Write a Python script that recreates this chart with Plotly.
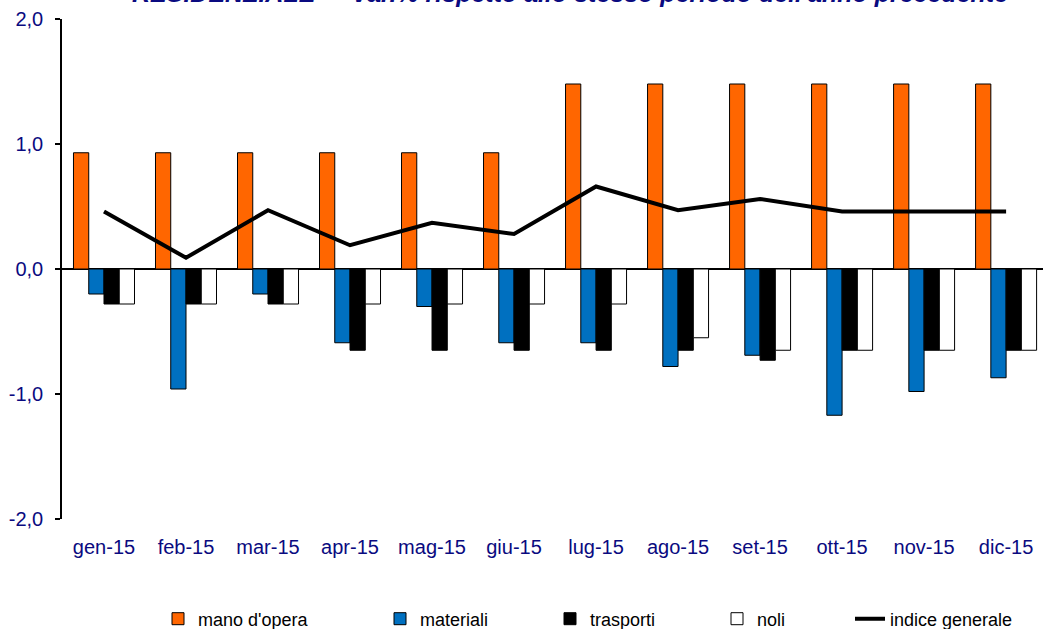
import plotly.graph_objects as go

months = ["gen-15", "feb-15", "mar-15", "apr-15", "mag-15", "giu-15",
          "lug-15", "ago-15", "set-15", "ott-15", "nov-15", "dic-15"]
mano_opera = [0.93, 0.93, 0.93, 0.93, 0.93, 0.93, 1.48, 1.48, 1.48, 1.48, 1.48, 1.48]
materiali = [-0.20, -0.96, -0.20, -0.59, -0.30, -0.59, -0.59, -0.78, -0.69, -1.17, -0.98, -0.87]
trasporti = [-0.28, -0.28, -0.28, -0.65, -0.65, -0.65, -0.65, -0.65, -0.73, -0.65, -0.65, -0.65]
noli = [-0.28, -0.28, -0.28, -0.28, -0.28, -0.28, -0.28, -0.55, -0.65, -0.65, -0.65, -0.65]
indice_generale = [0.46, 0.09, 0.47, 0.19, 0.37, 0.28, 0.66, 0.47, 0.56, 0.46, 0.46, 0.46]

y_tickvals = [-2, -1, 0, 1, 2]
y_ticktext = ["-2,0", "-1,0", "0,0", "1,0", "2,0"]

title_text = "RESIDENZIALE  -  Var.% rispetto allo stesso periodo dell'anno precedente"

navy = "#0A0A80"
font_family = "Liberation Sans, Arial, sans-serif"

fig = go.Figure()
line_style = dict(color="black", width=1)
fig.add_trace(go.Bar(x=months, y=mano_opera, name="mano d'opera", legend="legend",
                     marker=dict(color="#FF6600", line=line_style)))
fig.add_trace(go.Bar(x=months, y=materiali, name="materiali", legend="legend2",
                     marker=dict(color="#0070C0", line=line_style)))
fig.add_trace(go.Bar(x=months, y=trasporti, name="trasporti", legend="legend3",
                     marker=dict(color="#000000", line=line_style)))
fig.add_trace(go.Bar(x=months, y=noli, name="noli", legend="legend4",
                     marker=dict(color="#FFFFFF", line=line_style)))
fig.add_trace(go.Scatter(x=months, y=indice_generale, name="indice generale",
                         legend="legend5",
                         mode="lines", line=dict(color="black", width=4)))

legend_font = dict(family=font_family, size=18, color="black")
legend_x = [158, 380, 550, 717, 850]
legends = {}
for i, lx in enumerate(legend_x):
    key = "legend" if i == 0 else f"legend{i + 1}"
    legends[key] = dict(orientation="h", xref="container", x=lx / 1043,
                        xanchor="left", yref="container", y=1 - 619 / 629,
                        yanchor="middle", font=legend_font,
                        bgcolor="rgba(0,0,0,0)", itemwidth=30)

fig.update_layout(
    width=1043, height=629,
    margin=dict(l=62, r=0, t=19, b=110, autoexpand=False),
    paper_bgcolor="white", plot_bgcolor="white",
    barmode="group", bargap=0.256, bargroupgap=0,
    font=dict(family=font_family, color=navy, size=20),
    showlegend=True,
    **legends,
)

fig.add_annotation(
    text="<b><i>" + title_text + "</i></b>",
    xref="paper", yref="paper", x=(570 - 62) / 981, y=1 + (19 - 8.5) / 500,
    xanchor="center", yanchor="bottom", showarrow=False,
    font=dict(family=font_family, size=25, color=navy),
)

fig.update_xaxes(
    range=[-0.512, 11.45],
    showline=False, showgrid=False, zeroline=False,
    ticks="outside", ticklen=10, tickcolor="rgba(0,0,0,0)",
    tickfont=dict(size=20, color=navy),
    automargin=False,
)
fig.update_yaxes(
    range=[-2, 2],
    tickvals=y_tickvals, ticktext=y_ticktext,
    showline=True, linecolor="black", linewidth=1.5,
    showgrid=False,
    zeroline=True, zerolinecolor="black", zerolinewidth=1.5,
    ticks="outside", ticklen=5, tickcolor="black", tickwidth=1.5,
    ticklabelstandoff=8,
    tickfont=dict(size=20, color=navy),
    automargin=False,
)

fig.write_html("out.html",
               config={"displayModeBar": False},
               post_script="document.body.style.margin='0';document.body.style.overflow='hidden';")
